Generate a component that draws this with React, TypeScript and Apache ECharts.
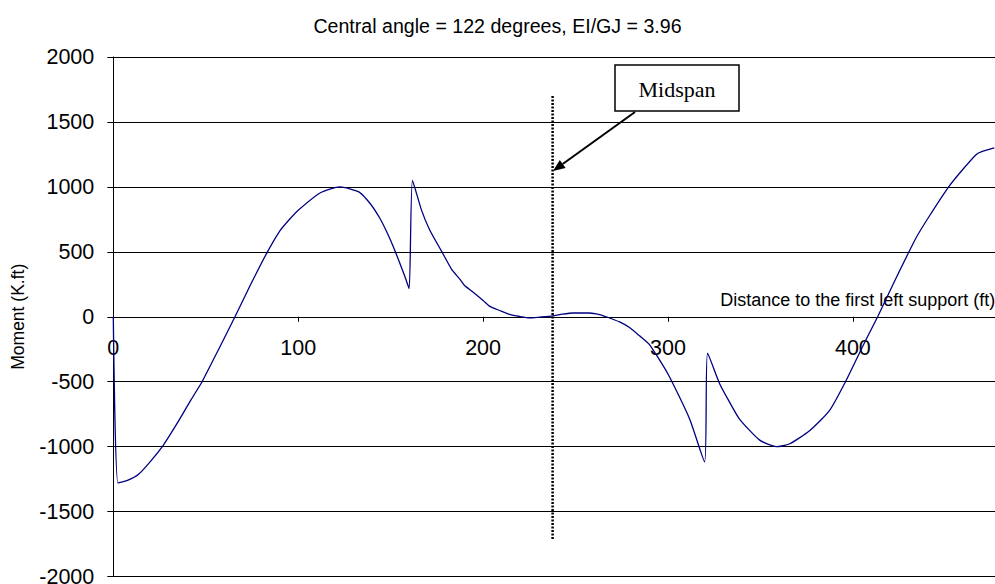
import React, { useEffect, useRef } from "react";
import * as echarts from "echarts";

const TITLE = "Central angle = 122 degrees, EI/GJ = 3.96";
const X_NAME = "Distance to the first left support (ft)";
const Y_NAME = "Moment (K.ft)";
const MIDSPAN_LABEL = "Midspan";

// Distance along the girder (ft)
const distanceFt = [
  0, 2.5, 8, 13.5, 20, 27, 35, 42, 48, 57,
  65.8, 74, 83, 90, 95, 100, 112, 122.5, 133, 139, 144,
  148, 152, 157.6, 160, 161.8, 166.6, 171, 177.5, 183, 187.4,
  190, 194.5, 200, 203.6, 209, 214.4, 219.8, 225.2, 230.6, 237.6,
  243, 248.6, 257.6, 263, 266.6, 273.8, 279.2, 284.6, 290, 300,
  311.7, 319.8, 321.4, 328, 333, 338.8, 349.6, 358.6, 365.6, 376.4,
  387.2, 396, 406.6, 413.4, 422.4, 434.2, 441.3, 452, 459.3, 466.6,
  470, 476.5,
];

// Moment (K.ft)
const momentKft = [
  0, -1280, -1258, -1215, -1115, -990, -810, -640, -500, -250,
  0, 240, 490, 660, 745, 820, 955, 1000, 960, 870, 762,
  650, 520, 313, 216, 1050, 825, 672, 505, 365, 290,
  240, 190, 125, 80, 48, 18, 2, -9, -3, 6,
  20, 29, 29, 17, 0, -40, -83, -147, -215, -441,
  -787, -1117, -280, -518, -650, -790, -950, -1000, -980, -880,
  -725, -500, -190, 0, 270, 608, 774, 1004, 1132, 1248,
  1273, 1300,
];

const xTicks = [0, 100, 200, 300, 400];
const yTicks = [-2000, -1500, -1000, -500, 0, 500, 1000, 1500, 2000];

// Midspan marker line
const midspanDistance = [237.6, 237.6];
const midspanMoment = [1700, -1720];

const SANS = "Liberation Sans";
const SERIF = "Liberation Serif";

const GRID_TOP = 57;
const GRID_HEIGHT = 519.5;

export default function App() {
  const ref = useRef<HTMLDivElement>(null);

  useEffect(() => {
    const chart = echarts.init(ref.current!, null, { renderer: "svg" });
    const yMin = yTicks[0];
    const yMax = yTicks[yTicks.length - 1];
    // shift the x axis up to the y = 0 position
    const zeroOffset = -GRID_HEIGHT * (0 - yMin) / (yMax - yMin);
    chart.setOption({
      animation: false,
      backgroundColor: "#ffffff",
      title: {
        text: TITLE,
        left: "center",
        top: 11,
        textStyle: { fontFamily: SANS, fontSize: 19.6, fontWeight: "normal", color: "#000" },
      },
      grid: {
        left: 113.3,
        top: GRID_TOP,
        width: 887.5,
        height: GRID_HEIGHT,
        outerBoundsMode: "none",
        containLabel: false,
      },
      xAxis: {
        type: "value",
        position: "bottom",
        offset: zeroOffset,
        min: xTicks[0],
        max: 480,
        interval: 100,
        name: X_NAME,
        nameLocation: "end",
        nameGap: -5.5,
        nameTextStyle: {
          fontFamily: SANS,
          fontSize: 18,
          color: "#000",
          align: "right",
          verticalAlign: "bottom",
          padding: [0, 0, 8, 0],
        },
        axisLine: { onZero: false, lineStyle: { color: "#000", width: 1 } },
        axisTick: { show: true, length: 5, lineStyle: { color: "#000" } },
        axisLabel: {
          margin: 20,
          fontFamily: SANS,
          fontSize: 21.5,
          color: "#000",
          formatter: (v: number) => (xTicks.includes(v) ? String(v) : ""),
        },
        splitLine: { show: false },
      },
      yAxis: {
        type: "value",
        min: yMin,
        max: yMax,
        interval: 500,
        name: Y_NAME,
        nameLocation: "middle",
        nameRotate: 90,
        nameGap: 86,
        nameTextStyle: { fontFamily: SANS, fontSize: 17.5, color: "#000" },
        axisLine: { show: true, onZero: false, lineStyle: { color: "#000", width: 1 } },
        axisTick: { show: true, length: 6, lineStyle: { color: "#000" } },
        axisLabel: {
          margin: 19,
          fontFamily: SANS,
          fontSize: 21.5,
          color: "#000",
          formatter: (v: number) => String(v),
        },
        splitLine: { show: true, lineStyle: { color: "#000", width: 1 } },
      },
      series: [
        {
          type: "line",
          data: distanceFt.map((x, i) => [x, momentKft[i]]),
          symbol: "none",
          smooth: 0.2,
          lineStyle: { color: "#000080", width: 1.3 },
          itemStyle: { color: "#000080" },
          z: 3,
        },
        {
          type: "line",
          data: midspanDistance.map((x, i) => [x, midspanMoment[i]]),
          symbol: "none",
          lineStyle: { color: "#000", width: 2.5, type: [2, 1.5] },
          z: 4,
        },
      ],
      graphic: [
        {
          type: "rect",
          shape: { x: 615, y: 65, width: 124, height: 46 },
          style: { fill: "#fff", stroke: "#000", lineWidth: 1.5 },
          z: 100,
        },
        {
          type: "text",
          x: 677,
          y: 89,
          style: {
            text: MIDSPAN_LABEL,
            fontFamily: SERIF,
            fontSize: 22,
            fill: "#000",
            align: "center",
            verticalAlign: "middle",
          },
          z: 101,
        },
        {
          type: "line",
          shape: { x1: 635, y1: 112, x2: 562.7, y2: 164 },
          style: { stroke: "#000", lineWidth: 2 },
          z: 100,
        },
        {
          type: "polygon",
          shape: { points: [[553, 171], [565.6, 168.1], [559.8, 159.9]] },
          style: { fill: "#000" },
          z: 100,
        },
      ],
    });
    return () => chart.dispose();
  }, []);

  return (
    <div
      ref={ref}
      style={{ position: "absolute", left: 0, top: 0, width: 995, height: 584, overflow: "hidden" }}
    />
  );
}
